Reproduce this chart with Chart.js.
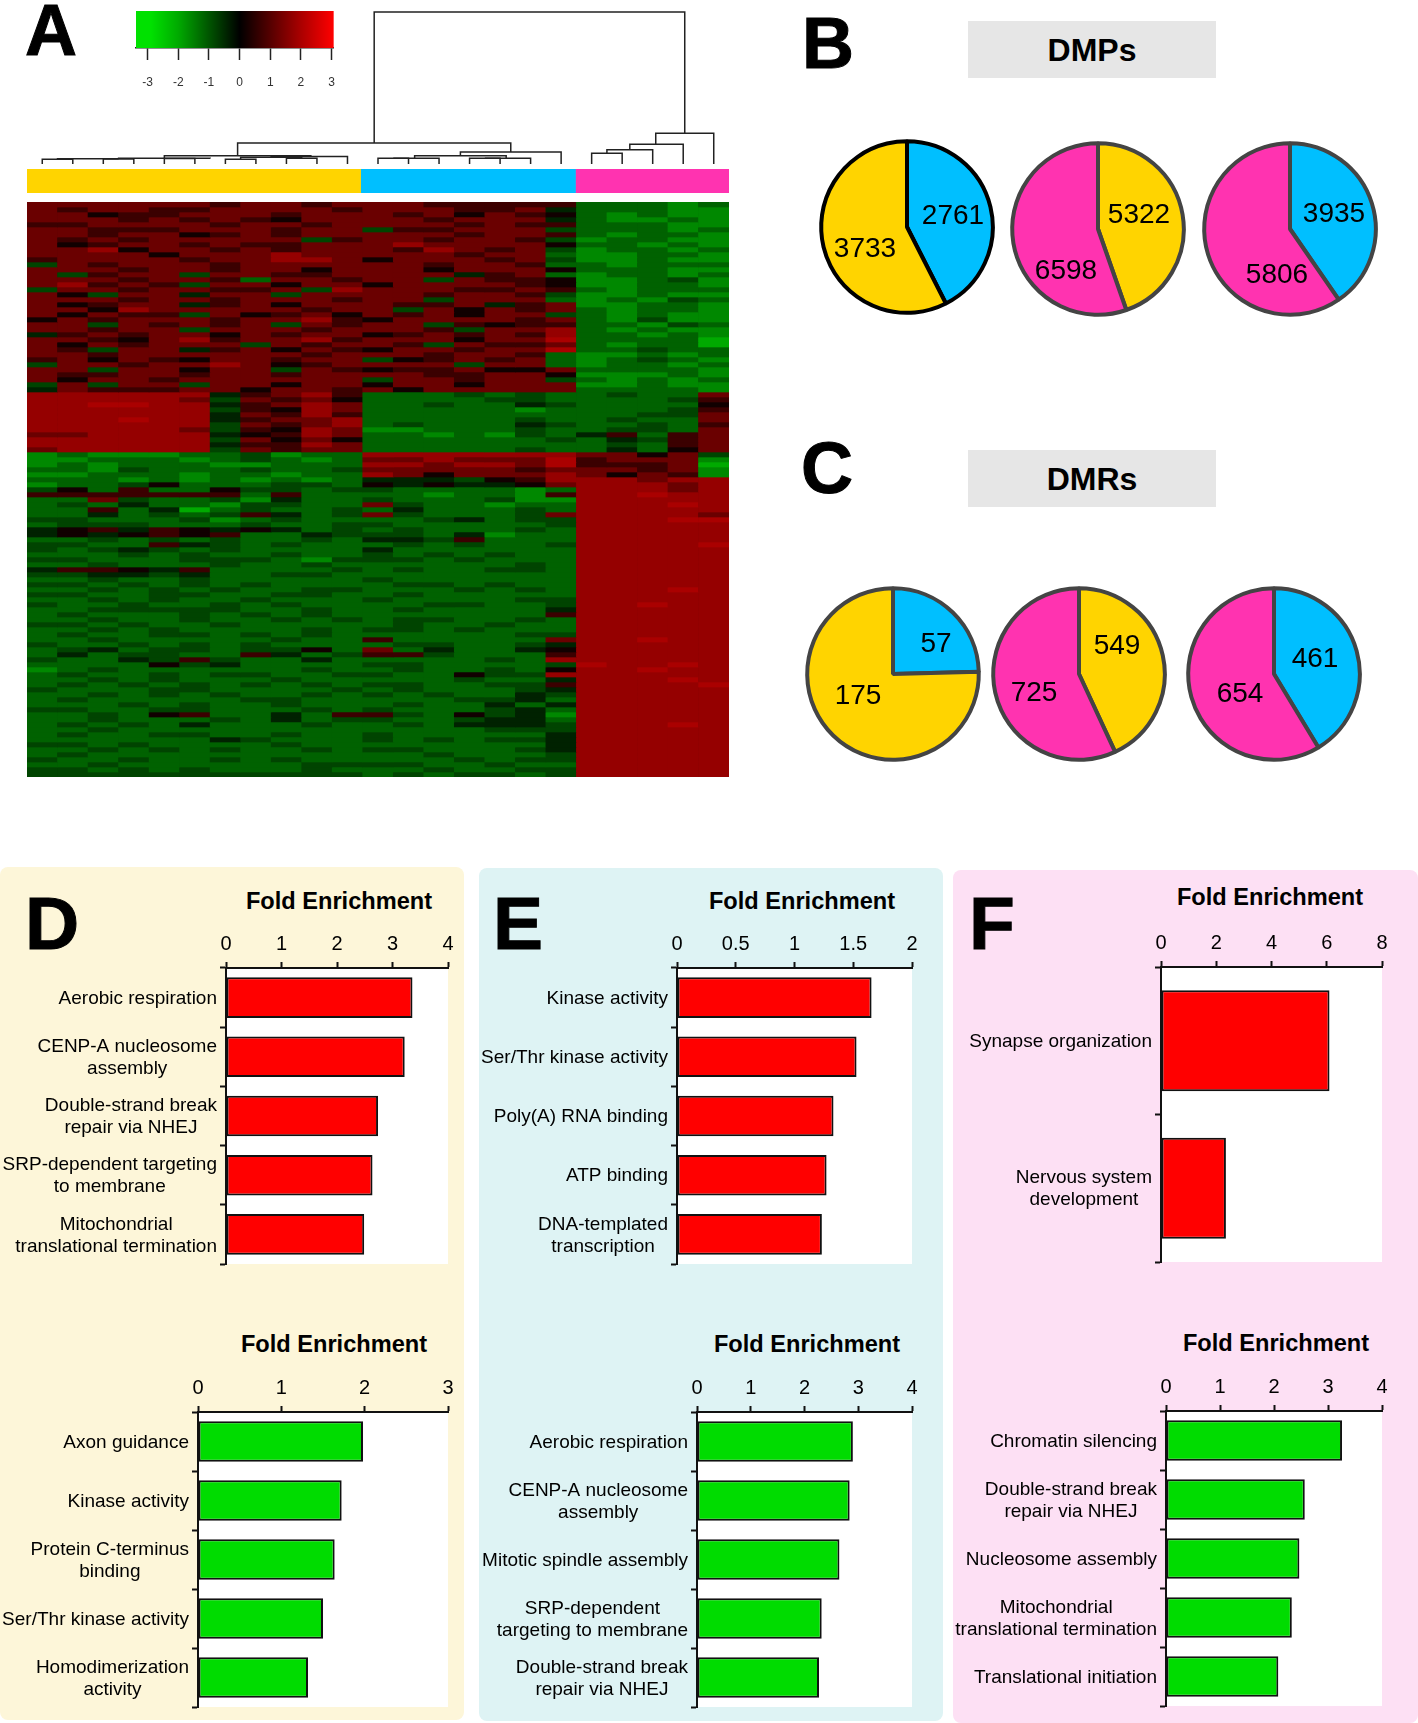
<!DOCTYPE html>
<html>
<head>
<meta charset="utf-8">
<title>Methylation figure</title>
<script src="https://cdn.jsdelivr.net/npm/chart.js@4"></script>
<style>
    html, body { margin: 0; padding: 0; background: #fff; }
    body { position: relative; width: 1418px; height: 1723px; overflow: hidden; font-family: "Liberation Sans", Arial, sans-serif; color: #000; }
    canvas { position: absolute; display: block; }
    .panel { position: absolute; border-radius: 8px; }
    .box { position: absolute; background: #e6e6e6; }
    .txt { position: absolute; white-space: nowrap; line-height: 1; }
</style>
</head>
<body>
<script>
// Heatmap: one string per row, one level digit per sample (11 yellow, 7 blue, 5 pink)
const heatLevels = [-2.0, -1.6, -1.15, -0.8, -0.4, 0.2, 0.7, 1.25, 1.75, 2.0];
const heatRows = [
    "77777767767 7766666 22212", "76776677776 7776674 22211", "77566777677 7675765 21211", "77767676577 7767774 21121",
    "66777767767 7776766 22211", "77666777677 3667773 22212", "77677567677 7776776 21221", "76767777736 7767763 12211",
    "75677676677 7877775 22121", "77857767677 7687673 12212", "77775777877 7776772 11221", "67777677887 5777673 11211",
    "37677767777 7767762 21222", "77767767757 7757775 22211", "73677377667 7774672 12212", "77767762776 7737665 11231",
    "78676377577 5777765 11221", "37767766738 7776676 21222", "75377477377 7767763 11211", "77767767776 7737772 12132",
    "75677467577 7667467 11221", "77587777767 7375767 21221", "75766375675 7675773 21211", "57677767786 5777767 21311",
    "77376767376 7736566 22132", "77677377767 7763778 21211", "46767757677 5676768 22121", "77657867786 7775779 22220",
    "75767773767 7637667 21220", "76377467576 5776779 22322", "77677777767 7767762 11212", "67576577677 3567672 12321",
    "37767787567 7773772 12212", "77377577376 5667557 22221", "76677677677 7766775 11121", "75776777777 3776773 21212",
    "37377377577 5775777 11211", "47666775776 7577777 22221",
    "88888846786 2223232 23227", "88888737675 2222332 22236", "88998846787 2232243 22225", "88888836587 2222212 22236",
    "88888847686 2222222 22337", "88898846778 2222232 23227", "88888837678 2322243 22326", "88888736587 1122232 23327",
    "77888845687 2212132 46267", "88888837575 2222223 24367", "88888846687 2222222 23267", "78888837677 2222232 24257",
    "12111223122 8888888 77573", "11222123212 7787779 67771", "12122211222 8878879 66670", "22132223223 7777767 77671",
    "11222122122 8757778 75761", "22212121212 4443568 88788", "12235222332 5454457 88878",
    "35262253323 3222212 88878", "66666662622 2212216 88988", "22732231422 3222311 88888", "23242213322 7322122 88898",
    "22624023223 2422232 88888", "22423236423 7322237 88887", "33222312322 2234233 88899", "23332223223 3222223 88888",
    "45646545423 2322232 88888", "45456562243 3324122 88888", "22323232232 4436222 88888", "33226432322 2323223 88889",
    "32343232222 4222222 88888", "22232322322 3232322 88888", "33222333213 3323222 88888", "22322232232 2222232 88888",
    "46654622223 2322332 88888", "33443422332 2222222 88888", "22322322222 3222222 88888", "33232323222 2332322 88888",
    "22323232233 2223232 88898", "33223322332 2322222 88888", "22323223222 3222233 88888", "32232232322 2233223 88988",
    "22333332232 2322224 88888", "23222323232 2222226 88888", "22322322323 2332232 88888", "33232232222 2322322 88888",
    "22323222232 3323222 88888", "23223323232 2222233 88888", "22322222322 6222227 88988", "32232323222 2332234 88888",
    "23423323352 7242245 88888", "24233226423 6632226 88888", "32243632242 2222328 88888", "22225342222 3322223 98898",
    "12322222232 2322325 88988", "23223233223 3225338 88888", "22323222322 2223224 88898", "23232323232 3322336 88889",
    "32223322223 2322234 88888", "22323232232 3232243 88888", "23222223322 2223342 88888", "22232322322 2322424 88888",
    "33223322232 3222342 88888", "22325622426 6325341 88888", "22322232423 3223442 88888", "23232422232 2324443 88898",
    "22322222222 2222333 88888", "23223322322 3222224 88888", "22222243222 3232334 88888", "33232222322 2222224 88888",
    "22323232232 3322234 88888", "23222222222 2232223 88888", "32232232322 2223233 88888", "22322222233 3322322 88888",
    "33232322232 2232233 88888", "33333333333 2323323 88888"
];
const heatColumns = ["1","2","3","4","5","6","7","8","9","10","11","12","13","14","15","16","17","18","19","20","21","22","23"];

// Colour key
const keyStops = [-3.38, -2.9, -2, -1, 0, 1, 2, 3.07];
const keyTicks = [-3, -2, -1, 0, 1, 2, 3];

// Sample groups (column ranges) and dendrogram merges: [xLeft, hLeft, xRight, hRight, hTop]
const groupRanges = [[-0.5, 10.43], [10.43, 17.47], [17.47, 22.5]];
const yellow = '#ffd400', blue = '#00bfff', pink = '#ff33b0';
const groupColors = [yellow, blue, pink];
const dendroLinks = [
    [0,0,1,0,4.7], [2,0,3,0,5], [0.5,4.7,2.5,5,5.3], [4,0,5,0,5.5], [2.5,5.3,5.5,5.5,5.8],
    [6,0,7,0,4.7], [8,0,9,0,5.7], [6.5,4.7,8.5,5.7,6.8], [7.5,6.8,10,0,7.5], [4,5.8,8.8,7.5,8.3],
    [11,0,12,0,5.7], [11.5,5.7,13,0,5.7], [14,0,15,0,5.7], [14.5,5.7,16,0,5.7], [12.2,5.7,15.2,5.7,8.3], [13.7,8.3,17,0,12],
    [6.4,8.3,15.35,12,21],
    [18,0,19,0,10.7], [18.5,10.7,20,0,14.3], [19.25,14.3,21,0,19.7], [20.1,19.7,22,0,30.7],
    [10.875,21,21.05,30.7,152]
];

// Pies B and C (values, then their slice colours)
const dmpValues = [[2761, 3733], [5322, 6598], [3935, 5806]];
const dmpColors = [[blue, yellow], [yellow, pink], [blue, pink]];
const dmrValues = [[57, 175], [549, 725], [461, 654]];
const dmrColors = [[blue, yellow], [yellow, pink], [blue, pink]];

// Enrichment bars
const dTopLabels = [["Aerobic respiration"], ["CENP-A nucleosome", "assembly"], ["Double-strand break", "repair via NHEJ"], ["SRP-dependent targeting", "to membrane"], ["Mitochondrial", "translational termination"]];
const dTopValues = [3.36, 3.22, 2.74, 2.64, 2.49];
const eTopLabels = [["Kinase activity"], ["Ser/Thr kinase activity"], ["Poly(A) RNA binding"], ["ATP binding"], ["DNA-templated", "transcription"]];
const eTopValues = [1.656, 1.528, 1.332, 1.273, 1.233];
const fTopLabels = [["Synapse organization"], ["Nervous system", "development"]];
const fTopValues = [6.1, 2.35];
const dBottomLabels = [["Axon guidance"], ["Kinase activity"], ["Protein C-terminus", "binding"], ["Ser/Thr kinase activity"], ["Homodimerization", "activity"]];
const dBottomValues = [1.98, 1.724, 1.64, 1.5, 1.32];
const eBottomLabels = [["Aerobic respiration"], ["CENP-A nucleosome", "assembly"], ["Mitotic spindle assembly"], ["SRP-dependent", "targeting to membrane"], ["Double-strand break", "repair via NHEJ"]];
const eBottomValues = [2.9, 2.84, 2.65, 2.32, 2.27];
const fBottomLabels = [["Chromatin silencing"], ["Double-strand break", "repair via NHEJ"], ["Nucleosome assembly"], ["Mitochondrial", "translational termination"], ["Translational initiation"]];
const fBottomValues = [3.26, 2.57, 2.47, 2.33, 2.08];

const FONT = '"Liberation Sans", Arial, sans-serif';
const RED = '#ff0000', GREEN = '#00dc00';

function heatColor(v) {
    const c = Math.min(255, Math.round(Math.abs(v) * 85));
    return v >= 0 ? `rgb(${c},0,0)` : `rgb(0,${c},0)`;
}

function addCanvas(left, top, width, height) {
    const c = document.createElement('canvas');
    c.width = width;
    c.height = height;
    c.style.left = left + 'px';
    c.style.top = top + 'px';
    document.body.appendChild(c);
    return c;
}

// text placed by its baseline; align is left, center or right around x
function addText(text, x, baseline, size, align, bold, extra) {
    const d = document.createElement('div');
    d.className = 'txt';
    d.textContent = text;
    d.style.fontSize = size + 'px';
    d.style.top = (baseline - size * 0.8465) + 'px';
    if (bold) d.style.fontWeight = 'bold';
    const shift = align === 'center' ? '-50%' : align === 'right' ? '-100%' : '0';
    d.style.left = x + 'px';
    d.style.transform = `translateX(${shift})`;
    if (extra) Object.assign(d.style, extra);
    document.body.appendChild(d);
}

function addPanel(left, top, width, height, color) {
    const d = document.createElement('div');
    d.className = 'panel';
    Object.assign(d.style, { left: left + 'px', top: top + 'px', width: width + 'px', height: height + 'px', background: color });
    document.body.appendChild(d);
}

function addBox(left, top, width, height) {
    const d = document.createElement('div');
    d.className = 'box';
    Object.assign(d.style, { left: left + 'px', top: top + 'px', width: width + 'px', height: height + 'px' });
    document.body.appendChild(d);
}

const quiet = { legend: { display: false }, tooltip: { enabled: false } };

// white plot area and category labels whose lines are centred on each other
const barPlugin = {
    id: 'barPlugin',
    beforeDraw(chart) {
        const a = chart.chartArea, ctx = chart.ctx;
        ctx.save();
        ctx.fillStyle = '#fff';
        ctx.fillRect(a.left, a.top, a.right - a.left, a.bottom - a.top);
        ctx.restore();
    },
    afterDraw(chart) {
        const ctx = chart.ctx, yScale = chart.scales.y, right = chart.chartArea.left - 9;
        ctx.save();
        ctx.font = '19px ' + FONT;
        ctx.fillStyle = '#000';
        ctx.textAlign = 'center';
        ctx.textBaseline = 'middle';
        chart.data.labels.forEach((lines, i) => {
            const widest = Math.max(...lines.map(t => ctx.measureText(t).width));
            const y0 = yScale.getPixelForValue(i) - (lines.length - 1) * 11;
            lines.forEach((t, k) => ctx.fillText(t, right - widest / 2, y0 + k * 22 + 1));
        });
        ctx.restore();
    }
};

function barPanel(panelLeft, l, t, r, b, labels, values, color, max, step) {
    const c = addCanvas(panelLeft, t - 46, r + 22 - panelLeft, b - t + 54);
    return new Chart(c, {
        type: 'bar',
        data: { labels, datasets: [{ data: values, backgroundColor: color, borderColor: '#111', borderWidth: 2, borderSkipped: false, barPercentage: 0.685, categoryPercentage: 1 }] },
        options: {
            indexAxis: 'y', responsive: false, animation: false,
            layout: { padding: { left: 0, right: 22, top: 0, bottom: 8 } },
            plugins: quiet,
            scales: {
                x: {
                    position: 'top', min: 0, max,
                    afterFit: s => { s.height = 46; },
                    ticks: { stepSize: step, color: '#000', padding: 6, font: { size: 20, family: FONT }, callback: v => String(v) },
                    grid: { drawOnChartArea: false, tickLength: 6, tickColor: '#111', tickWidth: 2 },
                    border: { color: '#111', width: 2 }
                },
                y: {
                    afterFit: s => { s.width = l - panelLeft; },
                    ticks: { display: false },
                    grid: { drawOnChartArea: false, tickLength: 6, tickColor: '#111', tickWidth: 2 },
                    border: { color: '#111', width: 2 }
                }
            }
        },
        plugins: [barPlugin]
    });
}

function piePanel(cx, cy, values, colors, edge) {
    const c = addCanvas(cx - 90, cy - 90, 180, 180);
    return new Chart(c, {
        type: 'pie',
        data: { labels: values.map(String), datasets: [{ data: values, backgroundColor: colors, borderColor: edge, borderWidth: 4 }] },
        options: { responsive: false, animation: false, layout: { padding: 2.2 }, plugins: quiet }
    });
}

function drawHeatmap() {
    const c = addCanvas(27, 202, 702, 575);
    c.style.background = '#000';
    const datasets = heatRows.map((row, r) => {
        const cells = row.replace(/ /g, '').split('').map(ch => heatLevels[+ch]);
        return {
            data: cells.map(() => [r, r + 1]),
            backgroundColor: cells.map(heatColor),
            borderWidth: 0, barPercentage: 1, categoryPercentage: 1, grouped: false
        };
    });
    new Chart(c, {
        type: 'bar',
        data: { labels: heatColumns, datasets },
        options: {
            responsive: false, animation: false, plugins: quiet,
            scales: {
                x: { display: false },
                y: { display: false, reverse: true, min: 0, max: heatRows.length }
            }
        }
    });
}

function drawGroupBar() {
    const c = addCanvas(27, 169, 702, 24);
    new Chart(c, {
        type: 'bar',
        data: {
            labels: ['group'],
            datasets: groupRanges.map((g, i) => ({ data: [g], backgroundColor: groupColors[i], barPercentage: 1, categoryPercentage: 1, grouped: false, borderWidth: 0 }))
        },
        options: {
            indexAxis: 'y', responsive: false, animation: false, plugins: quiet,
            scales: { x: { type: 'linear', display: false, min: -0.5, max: 22.5 }, y: { display: false } }
        }
    });
}

function drawDendrogram() {
    const c = addCanvas(27, 8, 702, 157);
    new Chart(c, {
        type: 'scatter',
        data: {
            datasets: dendroLinks.map(([xL, hL, xR, hR, hT]) => ({
                data: [{ x: xL, y: hL }, { x: xL, y: hT }, { x: xR, y: hT }, { x: xR, y: hR }],
                showLine: true, borderColor: '#222', borderWidth: 1.5, pointRadius: 0, tension: 0
            }))
        },
        options: {
            responsive: false, animation: false, plugins: quiet,
            scales: {
                x: { type: 'linear', display: false, min: -0.5, max: 22.5 },
                y: { type: 'linear', display: false, min: -1, max: 156 }
            }
        }
    });
}

function drawColorKey() {
    const c = addCanvas(126, 11, 224, 90);
    const lo = keyStops[0], hi = keyStops[keyStops.length - 1];
    new Chart(c, {
        type: 'bar',
        data: {
            labels: ['key'],
            datasets: [{
                data: [[lo, hi]], barPercentage: 1, categoryPercentage: 1, borderWidth: 0,
                backgroundColor: ctx => {
                    const area = ctx.chart.chartArea;
                    if (!area) return '#000';
                    const g = ctx.chart.ctx.createLinearGradient(area.left, 0, area.right, 0);
                    keyStops.forEach(v => g.addColorStop((v - lo) / (hi - lo), heatColor(Math.max(-2.65, Math.min(3, v)))));
                    return g;
                }
            }]
        },
        options: {
            indexAxis: 'y', responsive: false, animation: false,
            layout: { padding: { left: 10, right: 13 } },
            plugins: quiet,
            scales: {
                x: {
                    type: 'linear', min: lo, max: hi,
                    afterBuildTicks: s => { s.ticks = keyTicks.map(value => ({ value })); },
                    afterFit: s => { s.height = 53; },
                    ticks: { color: '#333', padding: 15, maxRotation: 0, font: { size: 12, family: FONT } },
                    grid: { drawOnChartArea: false, tickLength: 12, tickColor: '#222', tickWidth: 1.5 },
                    border: { color: '#222', width: 1.5 }
                },
                y: { display: false }
            }
        }
    });
}

document.addEventListener('DOMContentLoaded', () => {
    addPanel(0, 867, 464, 853, '#fdf6d9');
    addPanel(479, 868, 464, 853, '#def3f4');
    addPanel(953, 870, 465, 853, '#fde0f4');

    // panel A
    drawDendrogram();
    drawGroupBar();
    drawHeatmap();
    drawColorKey();

    // panels B and C
    addBox(968, 21, 248, 57);
    addBox(968, 450, 248, 57);
    addText('DMPs', 1092, 61, 32, 'center', true);
    addText('DMRs', 1092, 490, 32, 'center', true);

    piePanel(907, 227, dmpValues[0], dmpColors[0], '#000');
    piePanel(1098, 229, dmpValues[1], dmpColors[1], '#444');
    piePanel(1290, 229, dmpValues[2], dmpColors[2], '#444');
    piePanel(893, 674, dmrValues[0], dmrColors[0], '#444');
    piePanel(1079, 674, dmrValues[1], dmrColors[1], '#444');
    piePanel(1274, 674, dmrValues[2], dmrColors[2], '#444');

    const pieText = (v, x, y) => addText(String(v), x, y + 10, 28, 'center');
    pieText(dmpValues[0][0], 953, 215); pieText(dmpValues[0][1], 865, 248);
    pieText(dmpValues[1][0], 1139, 214); pieText(dmpValues[1][1], 1066, 270);
    pieText(dmpValues[2][0], 1334, 213); pieText(dmpValues[2][1], 1277, 274);
    pieText(dmrValues[0][0], 936, 643); pieText(dmrValues[0][1], 858, 695);
    pieText(dmrValues[1][0], 1117, 645); pieText(dmrValues[1][1], 1034, 692);
    pieText(dmrValues[2][0], 1315, 658); pieText(dmrValues[2][1], 1240, 693);

    // panels D, E and F
    barPanel(0, 226, 968, 448, 1264, dTopLabels, dTopValues, RED, 4, 1);
    barPanel(479, 677, 968, 912, 1264, eTopLabels, eTopValues, RED, 2, 0.5);
    barPanel(953, 1161, 967, 1382, 1262, fTopLabels, fTopValues, RED, 8, 2);
    barPanel(0, 198, 1412, 448, 1707, dBottomLabels, dBottomValues, GREEN, 3, 1);
    barPanel(479, 697, 1412, 912, 1707, eBottomLabels, eBottomValues, GREEN, 4, 1);
    barPanel(953, 1166, 1411, 1382, 1706, fBottomLabels, fBottomValues, GREEN, 4, 1);

    const heading = 'Fold Enrichment';
    addText(heading, 339, 910, 23.6, 'center', true);
    addText(heading, 802, 910, 23.6, 'center', true);
    addText(heading, 1270, 906, 23.6, 'center', true);
    addText(heading, 334, 1353, 23.6, 'center', true);
    addText(heading, 807, 1353, 23.6, 'center', true);
    addText(heading, 1276, 1352, 23.6, 'center', true);

    // panel letters
    const heavy = { WebkitTextStroke: '1px #000' };
    addText('A', 25, 55, 72, 'left', true, heavy);
    addText('B', 802, 68, 72, 'left', true, heavy);
    addText('C', 801, 493, 72, 'left', true, heavy);
    addText('D', 25, 949, 75, 'left', true, heavy);
    addText('E', 493, 949, 75, 'left', true, heavy);
    addText('F', 969, 949, 75, 'left', true, heavy);
});
</script>
</body>
</html>
